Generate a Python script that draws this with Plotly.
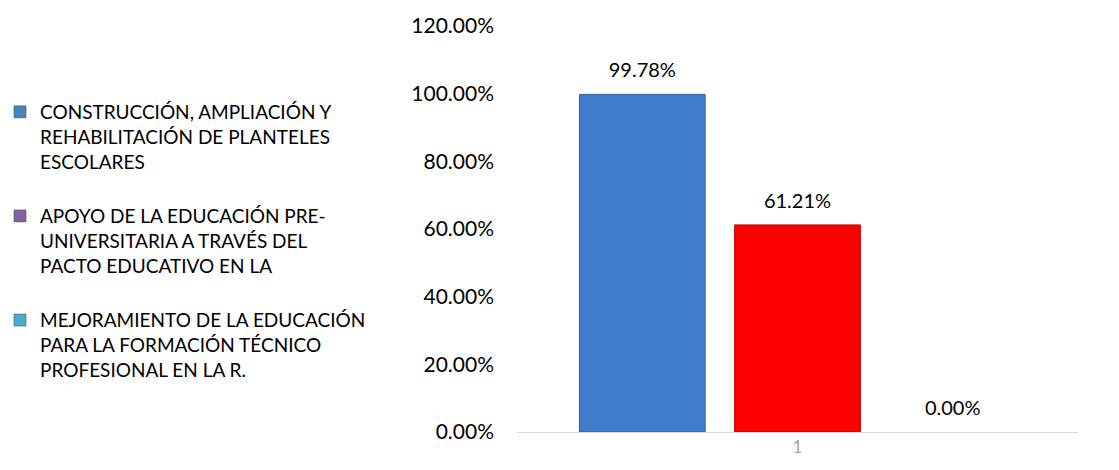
import plotly.graph_objects as go

categories = ["1"]
series_names = [
    "CONSTRUCCIÓN, AMPLIACIÓN Y<br>REHABILITACIÓN DE PLANTELES<br>ESCOLARES",
    "APOYO DE LA EDUCACIÓN PRE-<br>UNIVERSITARIA A TRAVÉS DEL<br>PACTO EDUCATIVO EN LA",
    "MEJORAMIENTO DE LA EDUCACIÓN<br>PARA LA FORMACIÓN TÉCNICO<br>PROFESIONAL EN LA R.",
]
values = [0.9978, 0.6121, 0.0]
bar_colors = ["#3f7ccb", "#ff0000", "#4bacc6"]
bar_line_colors = ["#2f5f9e", "#c00000", "#31859c"]
bar_line_widths = [1, 1, 0]
legend_colors = ["#4f81bd", "#8064a2", "#4bacc6"]
y_ticks = [0, 0.2, 0.4, 0.6, 0.8, 1.0, 1.2]

FONT = "Lato"
fig = go.Figure()
for i, (name, v) in enumerate(zip(series_names, values)):
    fig.add_trace(go.Bar(
        x=categories, y=[v], name=name, offsetgroup=str(i),
        marker=dict(color=bar_colors[i],
                    line=dict(color=bar_line_colors[i], width=bar_line_widths[i])),
        texttemplate="<span style='font-size:20px'>%{y:.2%}</span><br><span style='font-size:4px'> </span>",
        textposition="outside",
        textfont=dict(family=FONT, size=10, color="#000000"),
        cliponaxis=False, showlegend=False, legendgroup=f"g{i}",
    ))
for i, name in enumerate(series_names):
    fig.add_trace(go.Bar(
        x=[None], y=[None], name=name, legendgroup=f"g{i}", offsetgroup=str(i),
        marker=dict(color=legend_colors[i], line=dict(color="#404040", width=0.5)),
        showlegend=True,
    ))

fig.update_layout(
    width=1119, height=470,
    margin=dict(l=517, r=41, t=20, b=38),
    paper_bgcolor="white", plot_bgcolor="white",
    barmode="group", bargap=0.17, bargroupgap=0.19,
    font=dict(family=FONT, size=20, color="#000000"),
    legend=dict(
        xref="container", x=0.0, y=0.835,
        xanchor="left", yanchor="top", valign="top",
        traceorder="grouped", tracegroupgap=27,
        font=dict(family=FONT, size=19, color="#000000"),
        bgcolor="rgba(0,0,0,0)",
    ),
    xaxis=dict(
        type="category", showgrid=False, showline=True, linecolor="#d9d9d9",
        linewidth=1, tickfont=dict(color="#a6a6a6", size=17), ticks="",
    ),
    yaxis=dict(
        range=[0, 1.2], tickvals=y_ticks, tickformat=".2%", showgrid=False,
        zeroline=False, showline=False, ticks="", ticklabelstandoff=22,
        tickfont=dict(size=21),
    ),
)

fig.write_html("out.html", config={"displayModeBar": False},
               post_script="document.body.style.margin='0';")
